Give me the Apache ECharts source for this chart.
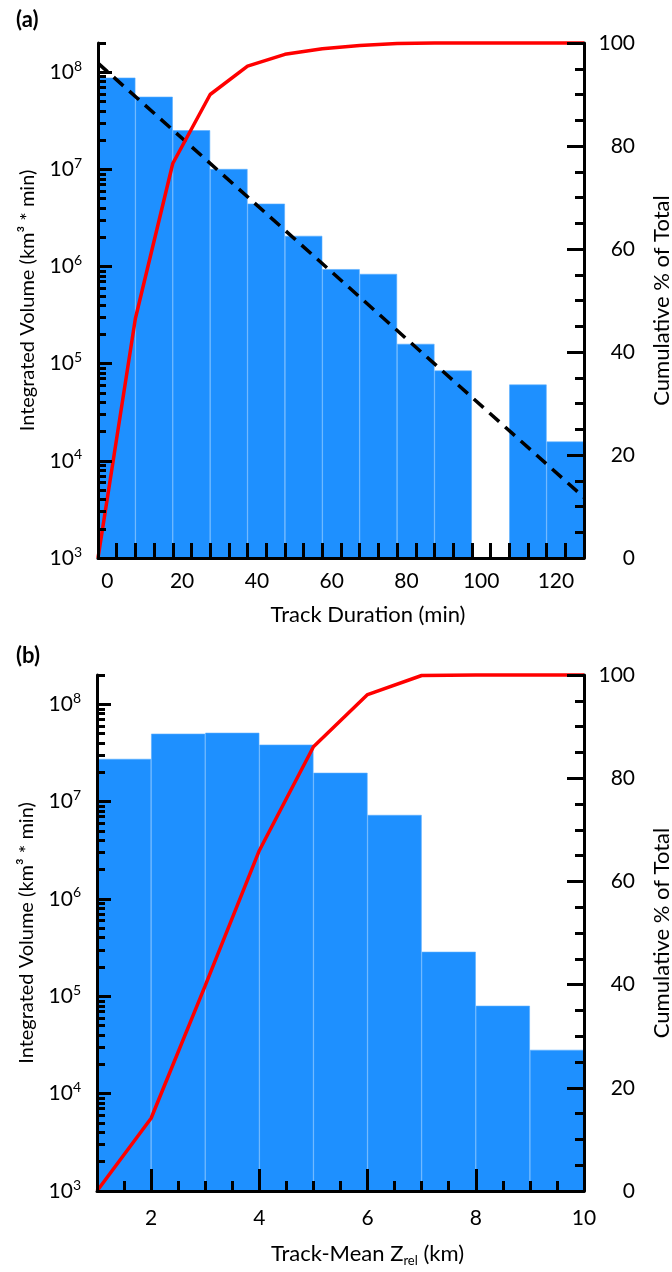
<!DOCTYPE html>
<html>
<head>
<meta charset="utf-8">
<script src="https://cdn.jsdelivr.net/npm/echarts@6/dist/echarts.min.js"></script>
<style>
  html, body { margin: 0; padding: 0; background: #fff; overflow: hidden; }
  #chart { width: 672px; height: 1272px; }
</style>
</head>
<body>
<div id="chart"></div>
<script>
// ---------- Panel (a): Track Duration ----------
const durBins = ['-2.5–7.5','7.5–17.5','17.5–27.5','27.5–37.5','37.5–47.5','47.5–57.5','57.5–67.5','67.5–77.5','77.5–87.5','87.5–97.5','97.5–107.5','107.5–117.5','117.5–127.5'];
const durVolume = [8.8e7, 5.6e7, 2.53e7, 1.01e7, 4.44e6, 2.07e6, 9.4e5, 8.4e5, 1.6e5, 8.5e4, null, 6.1e4, 1.58e4];
const durCumX = [-2.5, 7.5, 17.5, 27.5, 37.5, 47.5, 57.5, 67.5, 77.5, 87.5, 97.5, 107.5, 117.5, 127.5];
const durCumPct = [0, 46.5, 76.6, 90.0, 95.5, 97.8, 98.9, 99.5, 99.9, 100, 100, 100, 100, 100];
const fitX = [-2.5, 127.5];
const fitY = [1.24e8, 4.2e3];
const durTickPos = [2.5,7.5,12.5,17.5,22.5,27.5,32.5,37.5,42.5,47.5,52.5,57.5,62.5,67.5,72.5,77.5,82.5,87.5,92.5,97.5,102.5,107.5,112.5,117.5,122.5];
const durTickLabels = [0, 20, 40, 60, 80, 100, 120];

// ---------- Panel (b): Track-Mean Zrel ----------
const zBins = ['1–2','2–3','3–4','4–5','5–6','6–7','7–8','8–9','9–10'];
const zVolume = [2.75e7, 4.99e7, 5.1e7, 3.85e7, 1.98e7, 7.3e6, 2.87e5, 8.0e4, 2.82e4];
const zCumX = [1, 2, 3, 4, 5, 6, 7, 8, 9, 10];
const zCumPct = [0, 14.1, 39.8, 66.0, 86.1, 96.2, 99.9, 100, 100, 100];
const zMajorTicks = [2, 4, 6, 8];
const zMinorTicks = [1.5, 2.5, 3, 3.5, 4.5, 5, 5.5, 6.5, 7, 7.5, 8.5, 9, 9.5];
const zTickLabels = [2, 4, 6, 8, 10];

// ---------- shared axis ticks ----------
const logTickLabels = [1e3, 1e4, 1e5, 1e6, 1e7, 1e8];
const logMinorTicks = [];
for (let d = 3; d <= 7; d++) for (let m = 2; m <= 9; m++) logMinorTicks.push(m * Math.pow(10, d));
logMinorTicks.push(2e8);

const F = 'Lato';
const BLUE = '#1E90FF';
const LW = 3;
const TICK_FS = 21;
const NAME_FS = 22;
const YNAME_FS = 20;

const chart = echarts.init(document.getElementById('chart'), null, { renderer: 'canvas' });

const grids = [
  { left: 98, top: 43, width: 486, height: 515, containLabel: false, outerBoundsMode: 'none' },
  { left: 97, top: 675, width: 487, height: 516, containLabel: false, outerBoundsMode: 'none' }
];

function catAxis(gi, data) {
  return { type: 'category', gridIndex: gi, data: data, position: 'bottom', boundaryGap: true, show: false };
}
function logAxes(gi) {
  return [
    {
      type: 'log', gridIndex: gi, position: 'left', min: 1e3, max: 2e8, logBase: 10, z: 10,
      axisLine: { show: true, onZero: false, lineStyle: { color: '#000', width: LW } },
      axisTick: { show: true, inside: true, length: 14, customValues: logTickLabels, lineStyle: { color: '#000', width: LW } },
      axisLabel: {
        customValues: logTickLabels, margin: 16, color: '#000',
        formatter: v => '{b|10}{e|' + Math.round(Math.log10(v)) + '}',
        rich: {
          b: { fontSize: TICK_FS, fontFamily: F, color: '#000' },
          e: { fontSize: 14, fontFamily: F, color: '#000', padding: [0, 0, 12, 0] }
        }
      },
      splitLine: { show: false },
      name: 'Integrated Volume (km³ * min)', nameLocation: 'middle', nameGap: 60, nameRotate: 90,
      nameTextStyle: { fontSize: YNAME_FS, fontFamily: F, color: '#000' }
    },
    {
      type: 'log', gridIndex: gi, position: 'left', min: 1e3, max: 2e8, logBase: 10, z: 10,
      axisLine: { show: false, onZero: false },
      axisTick: { show: true, inside: true, length: 8, customValues: logMinorTicks, lineStyle: { color: '#000', width: LW } },
      axisLabel: { show: false },
      splitLine: { show: false }
    },
    {
      type: 'value', gridIndex: gi, position: 'right', min: 0, max: 100, interval: 20, z: 10,
      axisLine: { show: true, onZero: false, lineStyle: { color: '#000', width: LW } },
      axisTick: { show: true, inside: true, length: 17, lineStyle: { color: '#000', width: LW } },
      minorTick: { show: true, splitNumber: 4, length: 9, lineStyle: { color: '#000', width: LW } },
      axisLabel: { margin: 51, align: 'right', fontSize: TICK_FS, fontFamily: F, color: '#000' },
      splitLine: { show: false },
      name: 'Cumulative % of Total', nameLocation: 'middle', nameGap: 67, nameRotate: 90,
      nameTextStyle: { fontSize: NAME_FS, fontFamily: F, color: '#000' }
    }
  ];
}

const option = {
  backgroundColor: '#fff',
  animation: false,
  title: [
    { text: '(a)', left: 11, top: 4, textStyle: { fontSize: 22, fontWeight: 'bold', fontFamily: F, color: '#000' } },
    { text: '(b)', left: 11, top: 640, textStyle: { fontSize: 22, fontWeight: 'bold', fontFamily: F, color: '#000' } }
  ],
  grid: grids,
  xAxis: [
    catAxis(0, durBins),
    {
      type: 'value', gridIndex: 0, position: 'bottom', min: -2.5, max: 127.5, z: 10,
      axisLine: { show: true, onZero: false, lineStyle: { color: '#000', width: LW } },
      axisTick: { show: true, inside: true, length: 15, customValues: durTickPos, lineStyle: { color: '#000', width: LW } },
      axisLabel: { customValues: durTickLabels, margin: 13, fontSize: TICK_FS, fontFamily: F, color: '#000' },
      splitLine: { show: false },
      name: 'Track Duration (min)', nameLocation: 'middle', nameGap: 46,
      nameTextStyle: { fontSize: NAME_FS, fontFamily: F, color: '#000', padding: [0, 0, 0, 54] }
    },
    catAxis(1, zBins),
    {
      type: 'value', gridIndex: 1, position: 'bottom', min: 1, max: 10, z: 10,
      axisLine: { show: true, onZero: false, lineStyle: { color: '#000', width: LW } },
      axisTick: { show: true, inside: true, length: 22, customValues: zMajorTicks, lineStyle: { color: '#000', width: LW } },
      axisLabel: { customValues: zTickLabels, margin: 17, fontSize: TICK_FS, fontFamily: F, color: '#000' },
      splitLine: { show: false },
      name: '{n|Track-Mean Z}{s|rel}{n| (km)}', nameLocation: 'middle', nameGap: 50,
      nameTextStyle: {
        fontSize: NAME_FS, fontFamily: F, color: '#000', padding: [0, 0, 0, 54],
        rich: {
          n: { fontSize: NAME_FS, fontFamily: F, color: '#000' },
          s: { fontSize: 13, fontFamily: F, color: '#000', padding: [13, 0, 0, 0] }
        }
      }
    },
    {
      type: 'value', gridIndex: 1, position: 'bottom', min: 1, max: 10, z: 10,
      axisLine: { show: false, onZero: false },
      axisTick: { show: true, inside: true, length: 10, customValues: zMinorTicks, lineStyle: { color: '#000', width: LW } },
      axisLabel: { show: false },
      splitLine: { show: false }
    }
  ],
  yAxis: [].concat(logAxes(0), logAxes(1)),
  series: [
    {
      type: 'bar', xAxisIndex: 0, yAxisIndex: 0, data: durVolume,
      barWidth: '100%', barGap: '0%',
      itemStyle: { color: BLUE, borderColor: '#5AAEFF', borderWidth: 0.6 }
    },
    {
      type: 'line', xAxisIndex: 1, yAxisIndex: 0, symbol: 'none', clip: false, z: 5,
      data: fitX.map((x, i) => [x, fitY[i]]),
      lineStyle: { color: '#000', width: 3.5, type: [13, 8] }
    },
    {
      type: 'line', xAxisIndex: 1, yAxisIndex: 2, symbol: 'none', clip: false, z: 6,
      data: durCumX.map((x, i) => [x, durCumPct[i]]),
      lineStyle: { color: '#FF0000', width: 3.5 }
    },
    {
      type: 'bar', xAxisIndex: 2, yAxisIndex: 3, data: zVolume,
      barWidth: '100%', barGap: '0%',
      itemStyle: { color: BLUE, borderColor: '#5AAEFF', borderWidth: 0.6 }
    },
    {
      type: 'line', xAxisIndex: 3, yAxisIndex: 5, symbol: 'none', clip: false, z: 6,
      data: zCumX.map((x, i) => [x, zCumPct[i]]),
      lineStyle: { color: '#FF0000', width: 3.5 }
    }
  ]
};

chart.setOption(option);
</script>
</body>
</html>
